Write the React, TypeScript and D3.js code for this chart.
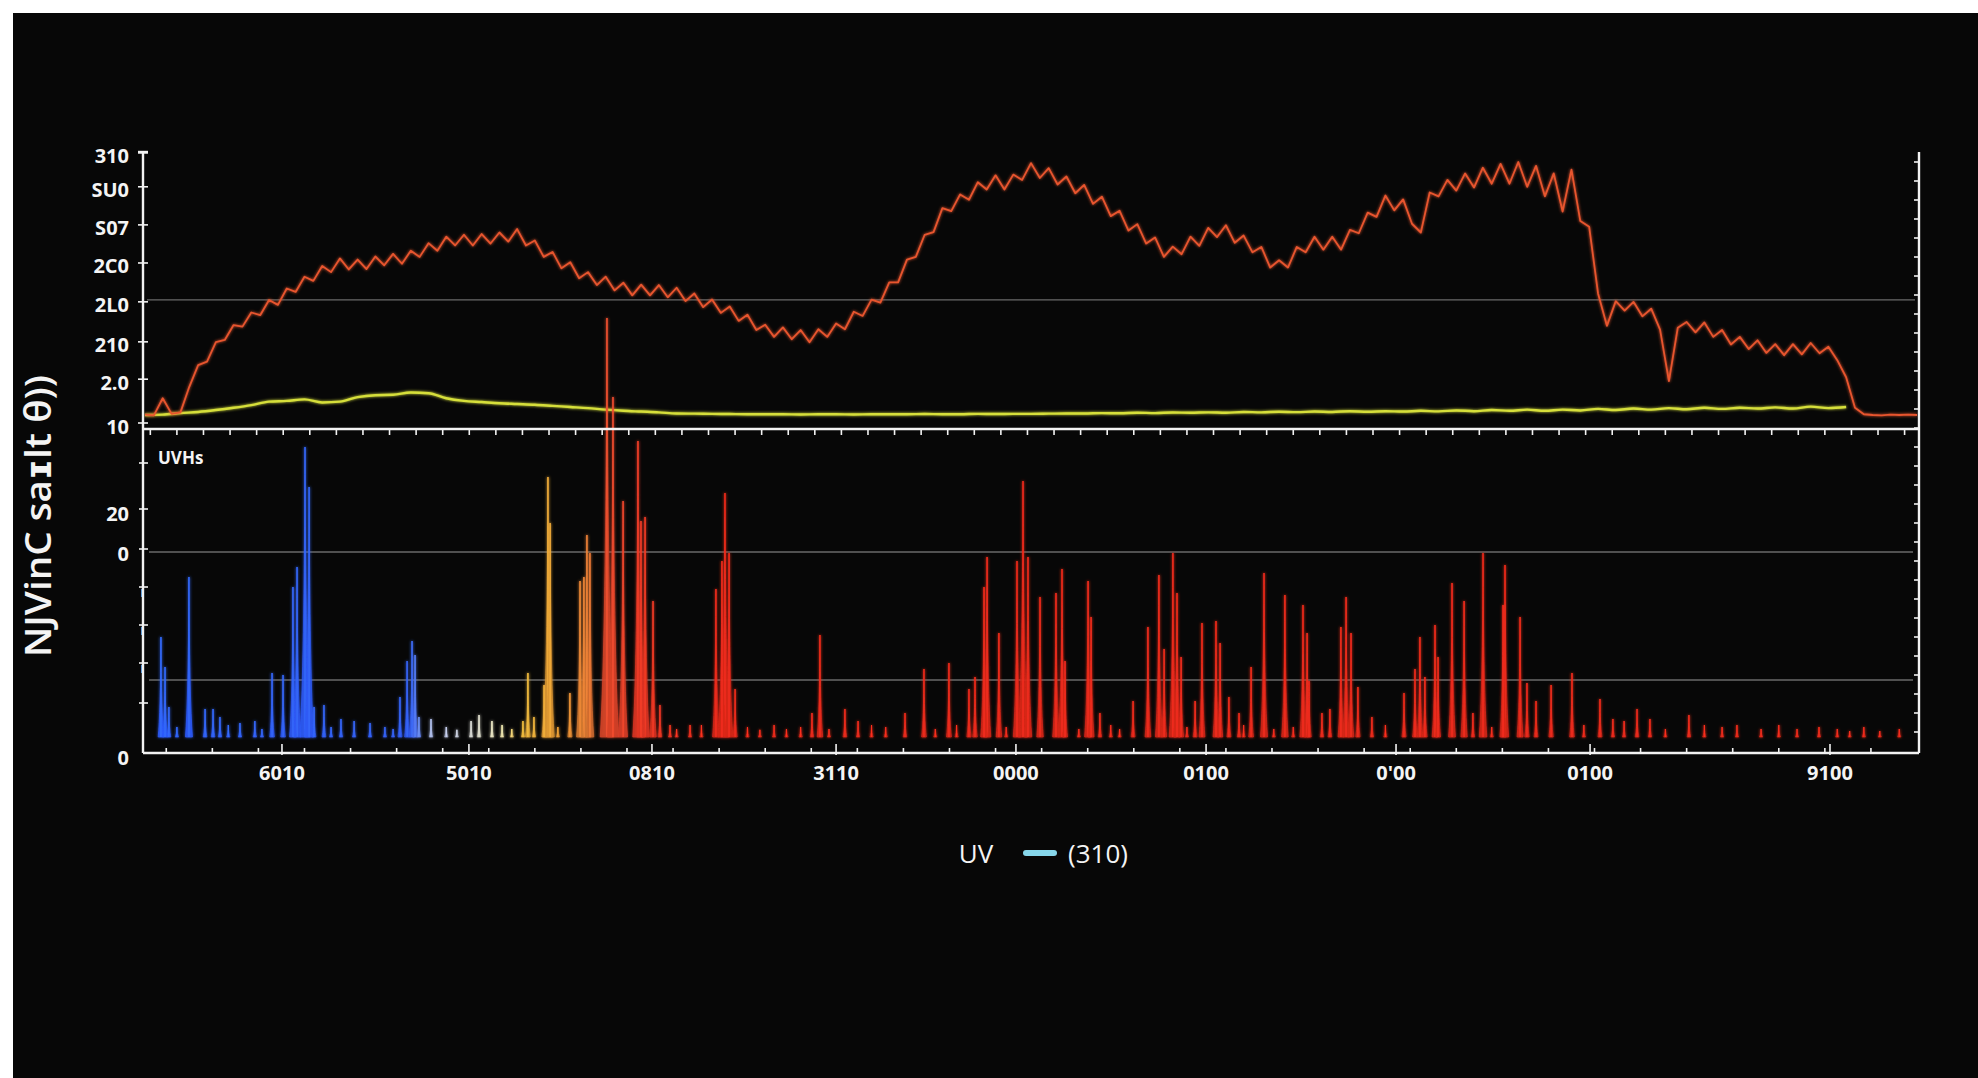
import React from "react";
import * as d3 from "d3";

// ---------- data ----------
// upper panel (trace values, x in 0..1000 axis units)
const upperTickValues = [0, 11.5, 21.3, 31.8, 42, 52, 62, 70.9];
const upperTickLabels = ["10", "2.0", "210", "2L0", "2C0", "S07", "SU0", "310"];
const upperGridValues = [32.3];

const redStep = 5;
const redValues = [
  2.2, 2.0, 6.5, 2.4, 2.8, 9.5, 15.2, 16.1, 21.2, 21.8,
  25.7, 25.3, 29, 28.3, 32.3, 31, 35.3, 34.4, 38.4, 37.3,
  41.2, 39.6, 43.2, 40.3, 42.9, 40.4, 43.7, 41.4, 44.4, 41.8,
  45.2, 43.6, 47.2, 45.2, 48.9, 46.6, 49.4, 46.6, 49.6, 47.1,
  50, 47.6, 50.9, 46.6, 47.9, 43.6, 44.9, 40.6, 42.2, 38,
  39.6, 36.2, 38.4, 34.8, 36.8, 33.5, 36.3, 33.5, 36.2, 33,
  35.5, 32, 34, 30.4, 32.4, 28.9, 30.6, 26.8, 28.4, 24.4,
  25.8, 22.6, 25.1, 22, 24.4, 21.2, 24.6, 22.6, 26.1, 24.6,
  29.2, 28.1, 32.4, 31.6, 36.9, 36.9, 42.9, 43.6, 49.4, 50.1,
  56.4, 55.6, 60, 58.6, 63.2, 61.3, 65, 61.3, 65.2, 63.8,
  68.2, 64.3, 66.9, 62.6, 64.7, 60.3, 62.5, 57.5, 59.4, 54.3,
  55.7, 50.5, 52.2, 47.1, 48.7, 43.6, 46.3, 44.3, 48.9, 46.5,
  51.2, 48.8, 51.9, 47.3, 49.2, 44.8, 46.2, 40.8, 42.7, 40.8,
  46.2, 44.8, 48.9, 45.5, 48.9, 45.5, 50.7, 49.8, 55.2, 54.1,
  59.7, 55.8, 58.7, 52.3, 50, 60.5, 59.5, 63.8, 61, 65.5,
  61.8, 67, 62.8, 68, 62.8, 68.5, 62, 67.5, 59.5, 65.5,
  55.5, 66.5, 53, 51.5, 34, 25.5, 32, 29.5, 31.8, 28,
  30, 24.5, 11, 25, 26.5, 23.8, 26.4, 22.6, 24.4, 20.6,
  22.6, 19.4, 21.7, 18.4, 20.7, 17.8, 20.7, 18, 21, 18.3,
  20, 16.5, 12, 4, 2.3, 2.1, 2.0, 2.2, 2.1, 2.2,
  2.1,
];

const yellowStep = 10;
const yellowValues = [
  2.1, 2.2, 2.6, 2.9, 3.4, 4.0, 4.7, 5.6, 5.8, 6.2,
  5.4, 5.6, 6.8, 7.3, 7.4, 8.0, 7.8, 6.5, 5.8, 5.5,
  5.2, 5.0, 4.8, 4.5, 4.2, 3.9, 3.5, 3.2, 3.0, 2.8,
  2.5, 2.45, 2.4, 2.35, 2.3, 2.3, 2.3, 2.25, 2.3, 2.3,
  2.25, 2.3, 2.3, 2.3, 2.35, 2.3, 2.3, 2.4, 2.35, 2.4,
  2.4, 2.45, 2.5, 2.5, 2.6, 2.55, 2.7, 2.6, 2.75, 2.7,
  2.8, 2.7, 2.9, 2.8, 2.95, 2.85, 3.0, 2.9, 3.1, 2.95,
  3.1, 3.0, 3.2, 3.05, 3.3, 3.1, 3.4, 3.2, 3.5, 3.2,
  3.5, 3.3, 3.7, 3.4, 3.8, 3.5, 3.9, 3.6, 4.0, 3.7,
  4.0, 3.8, 4.1, 3.8, 4.3, 3.9, 4.2,
];

// lower panel spikes (x in axis units, height in lower units)
const spikeX = [
  9.0, 11.3, 13.5, 24.8, 33.9, 38.4, 42.3, 53.6, 62, 71.7, 77.9, 83.5, 85.8, 90.3, 92.6, 95.4, 101,
  110.6, 118, 127, 135.4, 143.9, 147.9, 150.7, 152.4, 154.6, 161.4, 184, 188.5, 195.8, 201.5,
  213.3, 216.1, 219.5, 225.2, 227.4, 228.6, 239.8, 245.5, 247.7, 249.4, 251.1,
  260.7, 264.1, 269.8, 278.2, 279.9, 282.2, 286.7, 290.6, 296.3, 307.6,
  322.2, 325.6, 327.3, 329.6, 333, 376.4, 380.9, 395, 402.4, 428.9, 439.6, 453.7, 465, 468.4,
  473.5, 475.2, 481.9, 492.1, 495.5, 498.3, 505.1, 514.1, 517.5, 519.2, 532.2, 533.9, 538.9,
  557.6, 566, 572.2, 575.1, 580.1, 582.4, 584.7, 592.6, 596.5, 604.4, 606.7, 611.7, 617.4,
  624.2, 631.5, 643.3, 653.5, 655.8, 656.9, 664.2, 668.7, 674.9, 677.8, 680.6, 684.5, 692.4,
  710.5, 716.7, 719.5, 722.3, 728, 729.7, 737.6, 744.4, 749.4, 755.1, 766.4, 767.5, 776, 779.9,
  785, 793.5, 805.3, 821.1, 828.4, 834.7, 842, 849.3, 871.3, 898.4, 932.3, 944.7, 962, 979,
  // small baseline fuzz
  18, 47, 66, 105, 140, 170, 176, 207, 233, 300, 314, 340, 347, 355, 362, 370, 386, 410, 418,
  446, 458, 486, 527, 545, 550, 588, 620, 637, 648, 700, 760, 812, 858, 880, 890, 912, 922,
  955, 970, 990,
];
const spikeH = [
  25, 17.5, 7.5, 40, 7, 7, 5, 3.5, 4, 16, 15.5, 37.5, 42.5, 72.5, 62.5, 7.5, 8,
  4.5, 4, 3.5, 2.5, 10, 19, 24, 20.5, 5, 4.5, 4, 5.5, 4, 3,
  4, 16, 5, 13, 65, 53.5, 11, 39, 40, 50.5, 46,
  104.75, 85, 59, 74, 54, 55, 34, 8, 3, 3,
  37, 44, 61, 46, 12, 6, 25.5, 7, 4, 6, 17, 18.5, 12, 15,
  37.5, 45, 26, 44, 64, 45, 35, 36, 42, 19, 39, 30, 6,
  9, 27.5, 40.5, 22, 46, 36, 20, 9, 28.5, 29, 23.5, 10, 6,
  17.5, 41, 35.5, 33, 26, 14, 6, 7, 27.5, 35, 26, 12.5, 5,
  11, 17, 25, 15, 28, 20, 38.5, 34, 6, 46, 33, 43, 30, 13.5,
  9, 13, 16, 9.5, 4.5, 4, 7, 4.5, 5.5, 3, 2, 2.5, 1.5, 1.5,
  2.5, 3, 2, 2.5, 2, 2.5, 1.8, 2, 2.5, 2, 3, 2.5, 1.8, 3, 2, 2.5, 2, 3, 2.5,
  2, 3, 2.5, 2, 3, 2, 2.5, 3, 2, 2.5, 3, 2.5, 3, 2, 3, 2.5, 2, 3,
  2, 2.5, 2,
];

const lowerTickValues = [-4, 8.5, 18.5, 28, 37.5, 47, 57, 68.5];
const lowerTickLabels = ["0", "", "ı", "ı", "ı", "0", "20", ""];
const lowerGridValues = [14.25, 46.25];

const xTickValues = [77.3, 182.8, 286.1, 390, 491.5, 598.8, 706, 815.5, 950.9];
const xTickLabels = ["6010", "5010", "0810", "3110", "0000", "0100", "0'00", "0100", "9100"];

const yTitle = "NJVinC saɪlt θ))";
const xTitleLeft = "UV";
const xTitleRight = "(310)";
const lowerPanelLabel = "UVHs";

// ---------- chart ----------
export default function App() {
  const W = 1978, H = 1078;
  const L = 143, R = 1919, T = 152, SEP = 429, B = 753;
  const font = "'Open Sans', 'DejaVu Sans', sans-serif";

  const x = d3.scaleLinear().domain([0, 1000]).range([145, 1917]);
  const yU = d3.scaleLinear().domain([0, 70]).range([423, 156.3]);
  const yL = d3.scaleLinear().domain([0, 100]).range([737, 337]);

  const spikeColor = d3
    .scaleLinear<string>()
    .domain([0, 150, 160, 200, 212, 232, 250, 258, 280, 320])
    .range(["#2d5cff", "#2f58f0", "#9aa8d8", "#d8d0a8", "#e0a838", "#d89030", "#d07030", "#d8482a", "#dc3422", "#d82618"])
    .clamp(true);

  const redLine = d3
    .line<number>()
    .x((_, i) => x(i * redStep))
    .y((d) => yU(d));
  const yellowLine = d3
    .line<number>()
    .x((_, i) => x(i * yellowStep))
    .y((d) => yU(d))
    .curve(d3.curveMonotoneX);

  const spikes = spikeX
    .map((sx, i) => ({ sx, h: spikeH[i] }))
    .sort((a, b) => b.h - a.h);

  const spikePath = (sx: number, h: number) => {
    const xp = x(sx);
    const base = yL(0);
    const top = yL(h);
    const hw = 1.5 + h * 0.05;
    const mid = base - (base - top) * 0.22;
    return `M${xp - hw},${base} Q${xp - hw * 0.15},${mid} ${xp},${top} Q${xp + hw * 0.15},${mid} ${xp + hw},${base} Z`;
  };

  const sepTicks = d3.range(3, 998, 15);
  const bottomMinor = d3.range(12, 1000, 26);
  const rightTicks = d3.range(T + 10, B - 4, 19);

  return (
    <>
      <style>{"body{margin:0;overflow:hidden;background:#fff}"}</style>
      <svg width={W} height={H} style={{ display: "block" }}>
        <defs>
          <filter id="glow" x="-20%" y="-20%" width="140%" height="140%">
            <feGaussianBlur stdDeviation="1.6" result="b" />
            <feMerge>
              <feMergeNode in="b" />
              <feMergeNode in="SourceGraphic" />
            </feMerge>
          </filter>
          <filter id="soft" x="-20%" y="-20%" width="140%" height="140%">
            <feGaussianBlur stdDeviation="0.6" />
          </filter>
        </defs>
        <rect x={0} y={0} width={W} height={H} fill="#ffffff" />
        <rect x={13} y={13} width={W - 13} height={H - 13} fill="#070707" />

        {/* grid lines */}
        {upperGridValues.map((v, i) => (
          <line key={"ug" + i} x1={L + 4} x2={R - 4} y1={yU(v)} y2={yU(v)} stroke="#6a6a6a" strokeWidth={1.3} />
        ))}
        {lowerGridValues.map((v, i) => (
          <line key={"lg" + i} x1={L + 6} x2={R - 6} y1={yL(v)} y2={yL(v)} stroke="#6a6a6a" strokeWidth={1.3} />
        ))}

        {/* upper lines */}
        <path d={yellowLine(yellowValues) || ""} fill="none" stroke="#d6df3a" strokeWidth={2.4} filter="url(#glow)" />
        <path d={redLine(redValues) || ""} fill="none" stroke="#e8552e" strokeWidth={1.8} strokeLinejoin="round" filter="url(#glow)" />

        {/* lower spikes */}
        <g filter="url(#glow)">
          {spikes.map((s, i) => (
            <g key={"s" + i}>
              <path d={spikePath(s.sx, s.h)} fill={spikeColor(s.sx)} fillOpacity={0.75} stroke={spikeColor(s.sx)} strokeWidth={0.7} />
              <line
                x1={x(s.sx)}
                x2={x(s.sx)}
                y1={yL(0)}
                y2={yL(s.h)}
                stroke={d3.color(spikeColor(s.sx))!.brighter(0.6).formatHex()}
                strokeWidth={1.1}
              />
            </g>
          ))}
        </g>

        {/* data baseline */}
        <line x1={L + 5} x2={R - 4} y1={yL(0)} y2={yL(0)} stroke="#e8e8e8" strokeWidth={1.6} filter="url(#soft)" />

        {/* frame */}
        <g stroke="#f2f2f2" strokeWidth={2.4} fill="none">
          <line x1={L} x2={L} y1={T} y2={B} />
          <line x1={R} x2={R} y1={T} y2={B} />
          <line x1={L} x2={R} y1={SEP} y2={SEP} />
          <line x1={L} x2={R} y1={B} y2={B} />
          <line x1={L - 5} x2={L + 5} y1={T} y2={T} />
        </g>
        <g stroke="#f2f2f2" strokeWidth={1.6}>
          {upperTickValues.map((v, i) => (
            <line key={"ut" + i} x1={L - 5} x2={L + 5} y1={yU(v)} y2={yU(v)} />
          ))}
          {lowerTickValues.slice(1).map((v, i) => (
            <line key={"lt" + i} x1={L - 4} x2={L + 5} y1={yL(v)} y2={yL(v)} />
          ))}
          {sepTicks.map((v, i) => (
            <line key={"st" + i} x1={x(v)} x2={x(v)} y1={SEP} y2={SEP + 6} />
          ))}
          {bottomMinor.map((v, i) => (
            <line key={"bm" + i} x1={x(v)} x2={x(v)} y1={B} y2={B - 5} />
          ))}
          {xTickValues.map((v, i) => (
            <line key={"bM" + i} x1={x(v)} x2={x(v)} y1={B - 9} y2={B + 2} />
          ))}
          {rightTicks.map((v, i) => (
            <line key={"rt" + i} x1={R} x2={R - 5} y1={v} y2={v} />
          ))}
        </g>

        {/* tick labels */}
        <g fill="#f4f4f4" fontFamily={font} fontWeight={700} fontSize={20}>
          {upperTickValues.map((v, i) => (
            <text key={"ul" + i} x={129} y={yU(v) + 3} textAnchor="end" dominantBaseline="central">
              {upperTickLabels[i]}
            </text>
          ))}
          {lowerTickValues.map((v, i) =>
            lowerTickLabels[i] === "" ? null : lowerTickLabels[i] === "ı" ? (
              <text key={"ll" + i} x={L + 1} y={yL(v) + 4} textAnchor="end" dominantBaseline="central" fontSize={15} fontWeight={400}>
                {lowerTickLabels[i]}
              </text>
            ) : (
              <text key={"ll" + i} x={129} y={yL(v) + 4} textAnchor="end" dominantBaseline="central">
                {lowerTickLabels[i]}
              </text>
            )
          )}
          {xTickValues.map((v, i) => (
            <text key={"xl" + i} x={x(v)} y={772} textAnchor="middle" dominantBaseline="central">
              {xTickLabels[i]}
            </text>
          ))}
          <text x={158} y={457} dominantBaseline="central" fontSize={17} fontWeight={700}>
            {lowerPanelLabel}
          </text>
        </g>

        {/* axis titles */}
        <text
          transform="translate(37,516) rotate(-90)"
          textAnchor="middle"
          dominantBaseline="central"
          fill="#f4f4f4"
          fontFamily={font}
          fontWeight={600}
          fontSize={36}
          textLength={282}
          lengthAdjust="spacingAndGlyphs"
        >
          {yTitle}
        </text>
        <g fill="#f4f4f4" fontFamily={font} fontSize={26}>
          <text x={976} y={853} textAnchor="middle" dominantBaseline="central">
            {xTitleLeft}
          </text>
          <rect x={1023} y={850} width={34} height={6} rx={3} fill="#86d6ea" />
          <text x={1098} y={853} textAnchor="middle" dominantBaseline="central">
            {xTitleRight}
          </text>
        </g>
      </svg>
    </>
  );
}
